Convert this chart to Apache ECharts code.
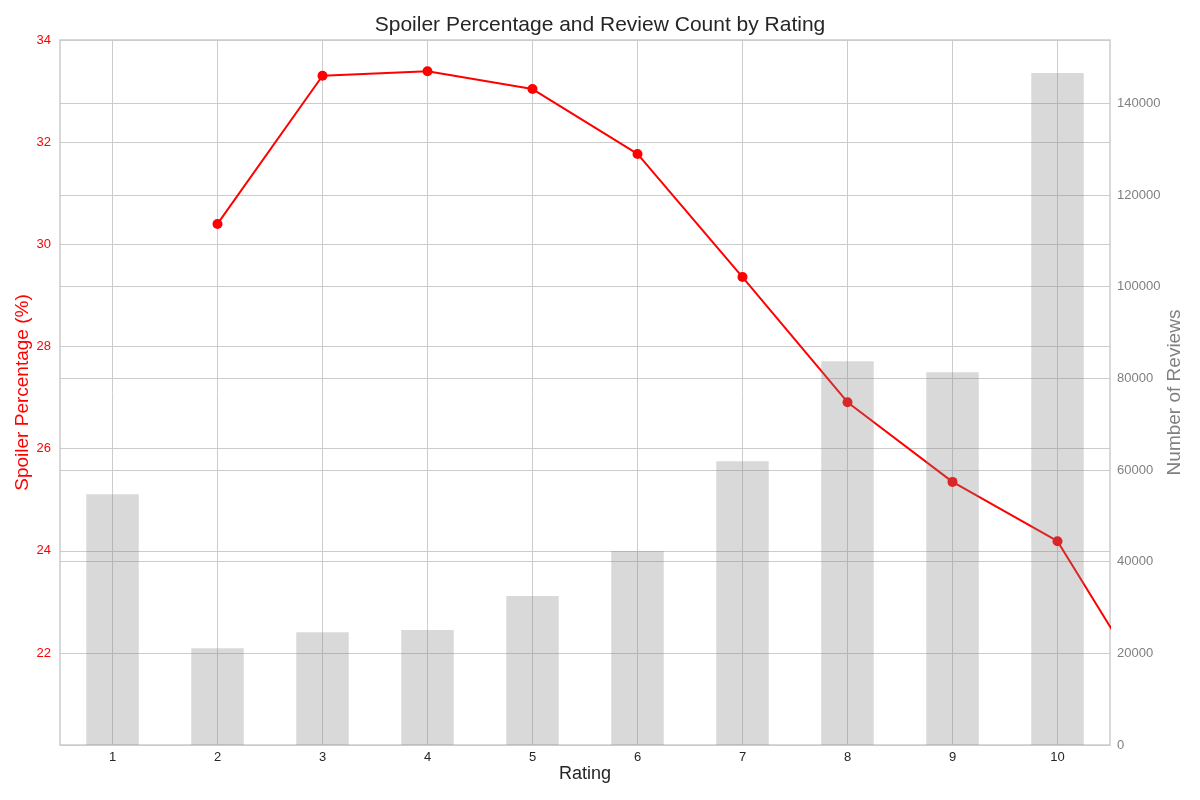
<!DOCTYPE html>
<html>
<head>
<meta charset="utf-8">
<script src="https://cdn.jsdelivr.net/npm/echarts@6/dist/echarts.min.js"></script>
<style>
  html, body { margin: 0; padding: 0; background: #fff; }
  #chart { width: 1200px; height: 800px; }
</style>
</head>
<body>
<div id="chart"></div>
<script>
var ratings = [1, 2, 3, 4, 5, 6, 7, 8, 9, 10];
var reviewCounts = [54700, 21100, 24600, 25100, 32500, 42300, 61900, 83700, 81300, 146600];
var spoilerPct = [30.40, 33.30, 33.39, 33.04, 31.77, 29.36, 26.91, 25.35, 24.19, 20.85];

initChart();
function initChart(){
    var dom = document.getElementById('chart');
    var myChart = echarts.init(dom, null, { renderer: 'canvas' });
    var font = 'Liberation Sans';

    // the line is placed by rating value, the bars by category slot (0..9)
    var lineData = ratings.map(function (r, i) { return [r, spoilerPct[i]]; });

    var option = {
        backgroundColor: '#fff',
        animation: false,
        title: {
            text: 'Spoiler Percentage and Review Count by Rating',
            left: 'center',
            top: 10,
            textStyle: { fontSize: 21, fontWeight: 'normal', color: '#262626', fontFamily: font }
        },
        grid: {
            left: 60, right: 90, top: 40, bottom: 55,
            outerBoundsMode: 'none', containLabel: false,
            show: true, borderColor: '#cccccc', borderWidth: 1.5
        },
        xAxis: [
            {
                type: 'category',
                data: ratings.map(String),
                name: 'Rating',
                nameLocation: 'middle',
                nameGap: 20,
                nameMoveOverlap: false,
                nameTextStyle: { fontSize: 18, color: '#262626', fontFamily: font },
                axisLine: { show: false },
                axisTick: { show: false },
                axisLabel: { color: '#262626', fontSize: 13, margin: 6, fontFamily: font },
                splitLine: { show: true, alignWithLabel: true, lineStyle: { color: '#cccccc', width: 1 } }
            },
            {
                type: 'value',
                min: -0.5,
                max: 9.5,
                show: false,
                splitLine: { show: false }
            }
        ],
        yAxis: [
            {
                type: 'value',
                min: 20.2,
                max: 34,
                minInterval: 2,
                maxInterval: 2,
                position: 'left',
                name: 'Spoiler Percentage (%)',
                nameLocation: 'middle',
                nameGap: 28,
                nameMoveOverlap: false,
                nameTextStyle: { fontSize: 19, color: '#ff0000', fontFamily: font },
                axisLine: { show: false },
                axisTick: { show: false },
                axisLabel: { color: '#ff0000', fontSize: 13, margin: 9, showMinLabel: false, fontFamily: font },
                splitLine: { show: true, lineStyle: { color: '#cccccc', width: 1 } }
            },
            {
                type: 'value',
                min: 0,
                max: 153800,
                interval: 20000,
                position: 'right',
                name: 'Number of Reviews',
                nameLocation: 'middle',
                nameGap: 55,
                nameMoveOverlap: false,
                nameTextStyle: { fontSize: 19, color: '#808080', fontFamily: font },
                axisLine: { show: false },
                axisTick: { show: false },
                axisLabel: {
                    color: '#808080', fontSize: 13, margin: 7, showMaxLabel: false, fontFamily: font,
                    formatter: function (v) { return String(v); }
                },
                splitLine: { show: true, lineStyle: { color: '#cccccc', width: 1 } }
            }
        ],
        series: [
            {
                type: 'line',
                xAxisIndex: 1,
                yAxisIndex: 0,
                data: lineData,
                clip: true,
                z: 2,
                color: '#ff0000',
                lineStyle: { width: 2 },
                symbol: 'circle',
                symbolSize: 10,
                showAllSymbol: true
            },
            {
                type: 'bar',
                xAxisIndex: 0,
                yAxisIndex: 1,
                data: reviewCounts,
                barWidth: '50%',
                z: 3,
                itemStyle: { color: 'rgba(128,128,128,0.3)' }
            }
        ]
    };

    myChart.setOption(option);
    window.addEventListener('resize', myChart.resize);
}
</script>
</body>
</html>
